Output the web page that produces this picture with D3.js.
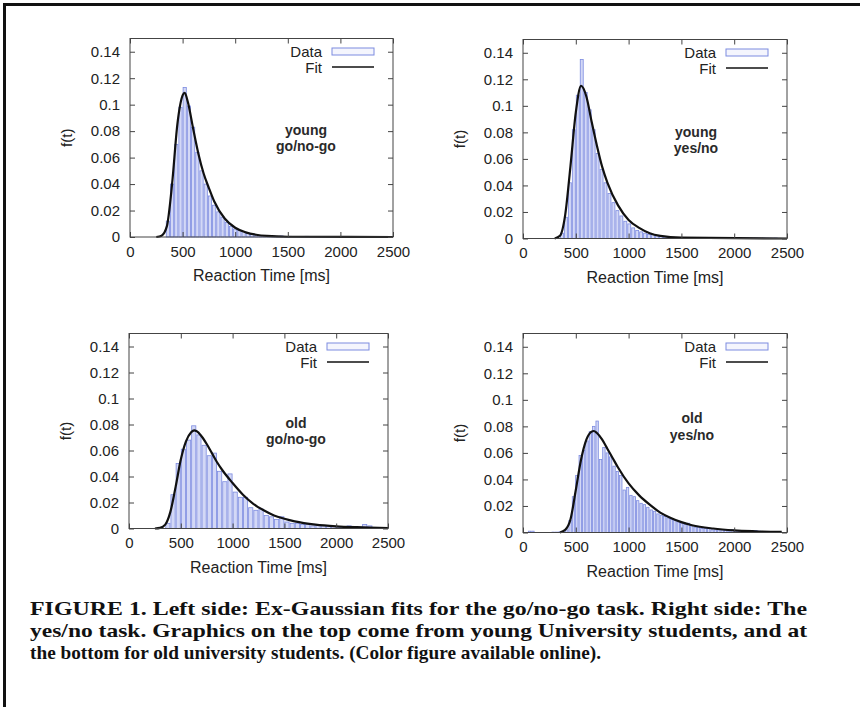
<!DOCTYPE html>
<html>
<head>
<meta charset="utf-8">
<script src="https://cdn.jsdelivr.net/npm/d3@7"></script>
<style>
  body { margin: 0; background: #fff; }
  svg { display: block; }
</style>
</head>
<body>
<svg width="860" height="707"></svg>
<script>
// axis ticks shared by all four panels
const xTicks = [0, 500, 1000, 1500, 2000, 2500]
const xTickLabels = ['0', '500', '1000', '1500', '2000', '2500']
const yTicks = [0, 0.02, 0.04, 0.06, 0.08, 0.1, 0.12, 0.14]
const yTickLabels = ['0', '0.02', '0.04', '0.06', '0.08', '0.1', '0.12', '0.14']
const panelNames = [['young', 'go/no-go'], ['young', 'yes/no'], ['old', 'go/no-go'], ['old', 'yes/no']]

// histogram bins: first bin edge (ms), bin width (ms), heights f(t)
const youngGoStart = 340
const youngGoWidth = 40
const youngGoBins = [0.012, 0.040, 0.070, 0.098, 0.113, 0.099, 0.083, 0.064, 0.050, 0.040,
  0.031, 0.024, 0.019, 0.015, 0.011, 0.008, 0.006, 0.005, 0.004, 0.003,
  0.002, 0.0015, 0.001, 0.001, 0.0008, 0.0006, 0.0005, 0.0008, 0.0004, 0.0005,
  0.0003, 0.0004, 0.0003, 0.0005, 0.0003, 0.0002, 0.0003, 0.0002, 0.0003, 0.0002,
  0.0002, 0.0003, 0.0002, 0.0004, 0.0003]

const youngYesStart = 350
const youngYesWidth = 37.5
const youngYesBins = [0.004, 0.016, 0.042, 0.082, 0.108, 0.135, 0.110, 0.097, 0.082, 0.064,
  0.052, 0.042, 0.034, 0.027, 0.021, 0.017, 0.013, 0.011, 0.008, 0.006,
  0.005, 0.004, 0.003, 0.003, 0.002, 0.0015, 0.001, 0.0008, 0.0006, 0.0007,
  0.0005, 0.0004, 0.0006, 0.0004, 0.0005, 0.0003, 0.0004, 0.0003, 0.0005, 0.0003,
  0.0004, 0.0003, 0.0002, 0.0004, 0.0006, 0.0004, 0.0003, 0.0003, 0.0002, 0.0003,
  0.0002, 0.0003, 0.0002, 0.0002, 0.0003]

const oldGoStart = 350
const oldGoWidth = 50
const oldGoBins = [0.004, 0.026, 0.050, 0.061, 0.068, 0.079, 0.072, 0.064, 0.056, 0.058,
  0.044, 0.036, 0.042, 0.028, 0.024, 0.024, 0.016, 0.014, 0.015, 0.010,
  0.009, 0.007, 0.009, 0.005, 0.004, 0.004, 0.003, 0.003, 0.002, 0.003,
  0.002, 0.002, 0.0015, 0.001, 0.001, 0.002, 0.001, 0.001, 0.003, 0.002]

const oldYesStart = 46
const oldYesWidth = 32
const oldYesBins = [0.001, 0.001, 0, 0, 0, 0, 0, 0.0003, 0.0003, 0.0005,
  0.0005, 0.002, 0.009, 0.027, 0.043, 0.058, 0.062, 0.069, 0.076, 0.080,
  0.084, 0.055, 0.064, 0.060, 0.057, 0.050, 0.046, 0.043, 0.032, 0.034,
  0.028, 0.027, 0.024, 0.022, 0.021, 0.019, 0.017, 0.016, 0.014, 0.013,
  0.012, 0.011, 0.010, 0.009, 0.008, 0.007, 0.006, 0.007, 0.005, 0.004,
  0.004, 0.003, 0.003, 0.003, 0.002, 0.002, 0.002, 0.002, 0.0015, 0.001,
  0.002, 0.001, 0.001, 0.001, 0.0008, 0.001, 0.0015, 0.0015, 0.001, 0.0008,
  0.0006, 0.0005, 0.0005, 0.0004, 0.0004]

// ex-Gaussian fit curves: [t (ms), f(t)]
const youngGoFit = [[250, 0], [300, 0.001], [350, 0.008], [400, 0.040], [450, 0.085], [500, 0.107],
  [520, 0.109], [550, 0.102], [600, 0.082], [650, 0.063], [700, 0.048], [750, 0.037],
  [800, 0.027], [900, 0.014], [1000, 0.007], [1100, 0.0035], [1200, 0.0017], [1300, 0.0008],
  [1500, 0.0002], [2500, 0]]

const youngYesFit = [[300, 0], [350, 0.002], [400, 0.018], [450, 0.055], [500, 0.095], [550, 0.115],
  [600, 0.107], [650, 0.088], [700, 0.070], [750, 0.054], [800, 0.042], [900, 0.025],
  [1000, 0.014], [1100, 0.008], [1200, 0.004], [1300, 0.002], [1500, 0.0006], [2500, 0]]

const oldGoFit = [[250, 0], [300, 0.0005], [350, 0.003], [400, 0.013], [450, 0.032], [500, 0.053],
  [550, 0.067], [600, 0.074], [630, 0.0755], [650, 0.075], [700, 0.071], [750, 0.065],
  [800, 0.058], [850, 0.051], [900, 0.045], [1000, 0.035], [1100, 0.026], [1200, 0.019],
  [1300, 0.014], [1400, 0.010], [1500, 0.0075], [1600, 0.0055], [1800, 0.003], [2000, 0.0017],
  [2200, 0.001], [2500, 0.0004]]

const oldYesFit = [[350, 0], [400, 0.002], [450, 0.010], [500, 0.032], [550, 0.055], [600, 0.070],
  [650, 0.076], [670, 0.0765], [700, 0.075], [750, 0.070], [800, 0.063], [850, 0.056],
  [900, 0.049], [1000, 0.037], [1100, 0.028], [1200, 0.021], [1300, 0.015], [1400, 0.011],
  [1500, 0.0078], [1600, 0.0055], [1800, 0.003], [2000, 0.0016], [2200, 0.0009], [2450, 0.0004]]

const caption = [
  'FIGURE 1. Left side: Ex-Gaussian fits for the go/no-go task. Right side: The',
  'yes/no task. Graphics on the top come from young University students, and at',
  'the bottom for old university students. (Color figure available online).'
]

// layout of each panel: plot frame and annotation position
const layout = [
  { l: 130, r: 393, b: 237, t: 38.5, note: [306, 135, 151] },
  { l: 523, r: 787, b: 238.5, t: 39.5, note: [696, 137, 153] },
  { l: 129, r: 388, b: 528.5, t: 333.5, note: [296, 428, 444] },
  { l: 523, r: 787, b: 532.5, t: 333.5, note: [692, 423, 440] }
]

const series = [
  { start: youngGoStart, width: youngGoWidth, bins: youngGoBins, fit: youngGoFit },
  { start: youngYesStart, width: youngYesWidth, bins: youngYesBins, fit: youngYesFit },
  { start: oldGoStart, width: oldGoWidth, bins: oldGoBins, fit: oldGoFit },
  { start: oldYesStart, width: oldYesWidth, bins: oldYesBins, fit: oldYesFit }
]

const svg = d3.select('svg')
const sans = "'Liberation Sans', Arial, sans-serif"
const frameColor = '#444'
const textColor = '#222'

// outer figure border (left and top only are inside the picture)
svg.append('path')
  .attr('d', 'M4.5,707V4.5H860')
  .attr('fill', 'none')
  .attr('stroke', '#111')
  .attr('stroke-width', 3)

series.forEach(function (s, k) {
  const p = layout[k]
  const x = d3.scaleLinear().domain([0, 2500]).range([p.l, p.r])
  const y = d3.scaleLinear().domain([0, 0.15]).range([p.b, p.t])
  const g = svg.append('g')

  const bars = s.bins.map(function (v, i) {
    return { x0: s.start + i * s.width, x1: s.start + (i + 1) * s.width, v: v }
  }).filter(function (d) { return d.v > 0 })

  g.selectAll('.bar')
    .data(bars)
    .enter().append('rect')
    .attr('class', 'bar')
    .attr('x', function (d) { return x(d.x0) + 0.5 })
    .attr('width', function (d) { return Math.max(x(d.x1) - x(d.x0) - 1, 0.5) })
    .attr('y', function (d) { return y(d.v) })
    .attr('height', function (d) { return y(0) - y(d.v) })
    .attr('fill', '#d3d8f6')
    .attr('stroke', '#7c8be0')
    .attr('stroke-width', 0.8)

  const line = d3.line()
    .x(function (d) { return x(d[0]) })
    .y(function (d) { return y(d[1]) })
    .curve(d3.curveMonotoneX)

  g.append('path')
    .datum(s.fit)
    .attr('d', line)
    .attr('fill', 'none')
    .attr('stroke', '#111')
    .attr('stroke-width', 2.2)

  // axes with inward ticks on all four sides
  const styleAxis = function (a) {
    a.select('.domain').remove()
    a.selectAll('line').attr('stroke', frameColor)
    a.selectAll('text').attr('fill', textColor).style('font-family', sans).style('font-size', '15px')
  }

  g.append('g')
    .attr('transform', 'translate(0,' + p.b + ')')
    .call(d3.axisBottom(x).tickValues(xTicks).tickSize(-5).tickPadding(9)
      .tickFormat(function (d, i) { return xTickLabels[i] }))
    .call(styleAxis)

  g.append('g')
    .attr('transform', 'translate(0,' + p.t + ')')
    .call(d3.axisTop(x).tickValues(xTicks).tickSize(-5).tickFormat(''))
    .call(styleAxis)

  g.append('g')
    .attr('transform', 'translate(' + p.l + ',0)')
    .call(d3.axisLeft(y).tickValues(yTicks).tickSize(-5).tickPadding(10)
      .tickFormat(function (d, i) { return yTickLabels[i] }))
    .call(styleAxis)

  g.append('g')
    .attr('transform', 'translate(' + p.r + ',0)')
    .call(d3.axisRight(y).tickValues(yTicks).tickSize(-5).tickFormat(''))
    .call(styleAxis)

  g.append('rect')
    .attr('x', p.l)
    .attr('y', p.t)
    .attr('width', p.r - p.l)
    .attr('height', p.b - p.t)
    .attr('fill', 'none')
    .attr('stroke', frameColor)
    .attr('stroke-width', 1)

  g.append('text')
    .attr('x', (p.l + p.r) / 2)
    .attr('y', p.b + 44)
    .attr('text-anchor', 'middle')
    .style('font-family', sans)
    .style('font-size', '16px')
    .attr('fill', textColor)
    .text('Reaction Time [ms]')

  g.append('text')
    .attr('transform', 'translate(' + (p.l - 58) + ',' + ((p.t + p.b) / 2) + ') rotate(-90)')
    .attr('text-anchor', 'middle')
    .style('font-family', sans)
    .style('font-size', '15px')
    .attr('fill', textColor)
    .text('f(t)')

  // legend
  g.append('text')
    .attr('x', p.r - 71)
    .attr('y', p.t + 18)
    .attr('text-anchor', 'end')
    .style('font-family', sans)
    .style('font-size', '15px')
    .attr('fill', textColor)
    .text('Data')

  g.append('rect')
    .attr('x', p.r - 61)
    .attr('y', p.t + 9.5)
    .attr('width', 42)
    .attr('height', 7)
    .attr('fill', '#f4f5fd')
    .attr('stroke', '#7c8be0')
    .attr('stroke-width', 1)

  g.append('text')
    .attr('x', p.r - 71)
    .attr('y', p.t + 34)
    .attr('text-anchor', 'end')
    .style('font-family', sans)
    .style('font-size', '15px')
    .attr('fill', textColor)
    .text('Fit')

  g.append('line')
    .attr('x1', p.r - 61)
    .attr('x2', p.r - 19)
    .attr('y1', p.t + 28.5)
    .attr('y2', p.t + 28.5)
    .attr('stroke', '#111')
    .attr('stroke-width', 1.5)

  g.selectAll('.note')
    .data(panelNames[k])
    .enter().append('text')
    .attr('class', 'note')
    .attr('x', p.note[0])
    .attr('y', function (d, i) { return p.note[i + 1] })
    .attr('text-anchor', 'middle')
    .style('font-family', sans)
    .style('font-size', '14px')
    .style('font-weight', 'bold')
    .attr('fill', '#2a2a2a')
    .text(function (d) { return d })
})

// caption
svg.selectAll('.caption')
  .data(caption)
  .enter().append('text')
  .attr('class', 'caption')
  .attr('x', 30)
  .attr('y', function (d, i) { return 615 + i * 22 })
  .attr('textLength', function (d, i) { return i < 2 ? 777 : 571 })
  .attr('lengthAdjust', 'spacingAndGlyphs')
  .style('font-family', "'Liberation Serif', 'Times New Roman', serif")
  .style('font-size', '19px')
  .style('font-weight', 'bold')
  .attr('fill', '#111')
  .text(function (d) { return d })
</script>
</body>
</html>
